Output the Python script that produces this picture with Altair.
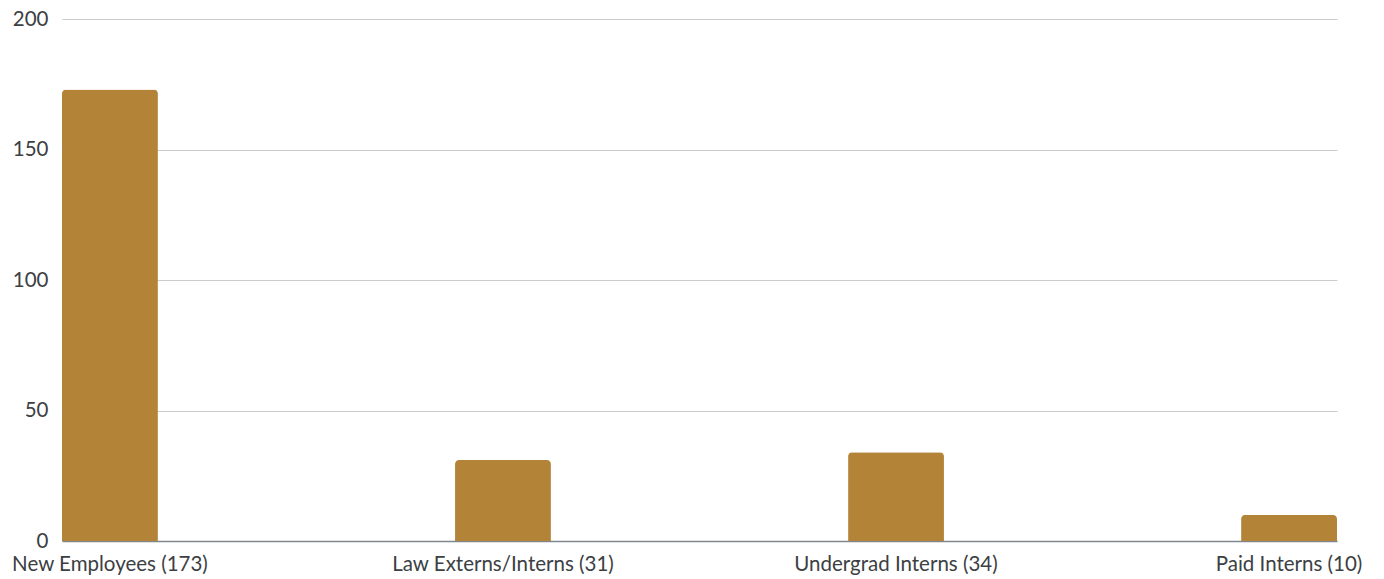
import altair as alt
import pandas as pd

categories = ["New Employees (173)", "Law Externs/Interns (31)", "Undergrad Interns (34)", "Paid Interns (10)"]
values = [173, 31, 34, 10]

df = pd.DataFrame({"category": categories, "value": values})

chart = alt.Chart(df).mark_bar(
    color="#B38438", cornerRadiusTopLeft=4, cornerRadiusTopRight=4
).encode(
    x=alt.X("category:N", sort=categories, title=None,
            scale=alt.Scale(paddingInner=0.756, paddingOuter=0),
            axis=alt.Axis(labelAngle=0, ticks=False, domainColor="#80868b", domainWidth=1.5,
                          labelFont="Lato", labelFontSize=20.5, labelColor="#3c4043",
                          labelPadding=13, labelLimit=0, grid=False)),
    y=alt.Y("value:Q", title=None,
            scale=alt.Scale(domain=[0, 200]),
            axis=alt.Axis(values=[0, 50, 100, 150, 200], ticks=False, domain=False,
                          gridColor="#cccccc", labelFont="Lato", labelFontSize=20.5,
                          labelColor="#3c4043", labelPadding=14)),
).properties(
    width=1275, height=522,
    background="white",
    autosize=alt.AutoSizeParams(type="none"),
    padding={"left": 62, "top": 19, "right": 47, "bottom": 38},
).configure_view(stroke=None)

chart.save("out.html", embed_options={"renderer": "svg", "actions": False})
